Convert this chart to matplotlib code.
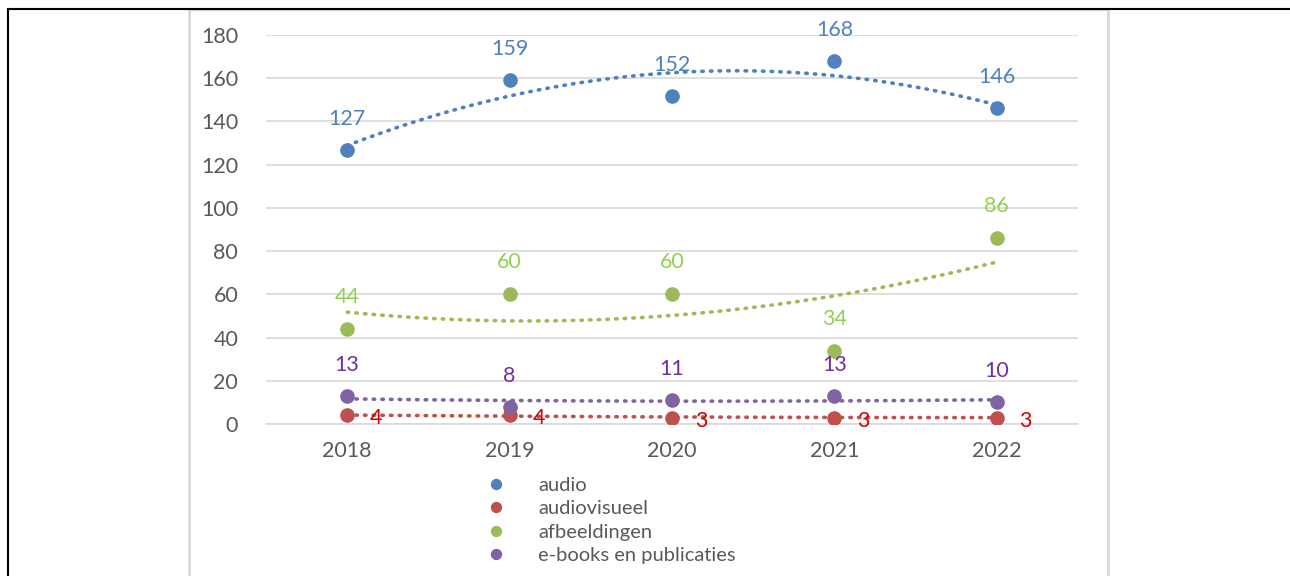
import matplotlib.pyplot as plt
from matplotlib.lines import Line2D
import numpy as np

plt.rcParams['font.family'] = ['Lato', 'DejaVu Sans']

years = [2018, 2019, 2020, 2021, 2022]
series_names = ['audio', 'audiovisueel', 'afbeeldingen', 'e-books en publicaties']
audio = [127, 159, 152, 168, 146]
audiovisueel = [4, 4, 3, 3, 3]
afbeeldingen = [44, 60, 60, 34, 86]
ebooks = [13, 8, 11, 13, 10]

colors = ['#4F81BD', '#C0504D', '#9BBB59', '#8064A2']
label_colors = ['#4F81BD', '#D00000', '#92D050', '#7030A0']
# label offsets in pixels (dx, dy)
label_offsets = [(0, 31), (29, -3), (0, 32), (0, 31)]

fig = plt.figure(figsize=(12.9, 5.76), dpi=100)
ax = fig.add_axes([266 / 1290, 1 - 424 / 576, (1078 - 266) / 1290, (424 - 35) / 576])

x = np.arange(len(years))
data = [audio, audiovisueel, afbeeldingen, ebooks]

for vals, name, c, lc, off in zip(data, series_names, colors, label_colors, label_offsets):
    # polynomial (order 2) trendline like Excel
    coef = np.polyfit(x, vals, 2)
    xs = np.linspace(0, len(years) - 1, 200)
    ax.plot(xs, np.polyval(coef, xs), color=c, lw=2.6, linestyle=(0, (0.4, 2.0)),
            dash_capstyle='round', zorder=2)
    ax.plot(x, vals, 'o', color=c, markersize=9.5, label=name, zorder=3)
    for xi, v in zip(x, vals):
        ax.annotate(str(v), (xi, v), xytext=off, textcoords='offset pixels',
                    ha='center', va='center', color=lc, fontsize=15.5, zorder=4)

ax.set_xlim(-0.5, len(years) - 0.5)
ax.set_ylim(0, 180)
ax.set_yticks(range(0, 181, 20))
ax.set_xticks(x)
ax.set_xticklabels([str(y) for y in years])
ax.grid(axis='y', color='#d9d9d9', lw=1.2)
ax.set_axisbelow(True)
for s in ['top', 'right', 'left']:
    ax.spines[s].set_visible(False)
ax.spines['bottom'].set_color('#d9d9d9')
ax.spines['bottom'].set_linewidth(1.2)
ax.tick_params(length=0, labelsize=15.5, colors='#595959', pad=12)
ax.tick_params(axis='y', pad=20)

leg = ax.legend(loc='upper left', bbox_to_anchor=(481 / 1290, 1 - 477 / 576),
                bbox_transform=fig.transFigure, frameon=False, fontsize=14.5,
                labelcolor='#595959', handletextpad=1.35, labelspacing=0.31,
                markerscale=0.75, handlelength=1.5, borderpad=0, borderaxespad=0)

# outer frames
gray = '#d9d9d9'
fig.add_artist(Line2D([189 / 1290, 189 / 1290], [0, 1 - 9 / 576], color=gray, lw=2))
fig.add_artist(Line2D([1108 / 1290, 1108 / 1290], [0, 1 - 9 / 576], color=gray, lw=2))
fig.add_artist(Line2D([189 / 1290, 1108 / 1290], [1 - 10 / 576, 1 - 10 / 576], color=gray, lw=1))
fig.add_artist(Line2D([8 / 1290, 1], [1 - 8.5 / 576, 1 - 8.5 / 576], color='black', lw=1.5))
fig.add_artist(Line2D([8 / 1290, 8 / 1290], [0, 1 - 8.5 / 576], color='black', lw=1.5))

fig.savefig('out.png', dpi=100)
